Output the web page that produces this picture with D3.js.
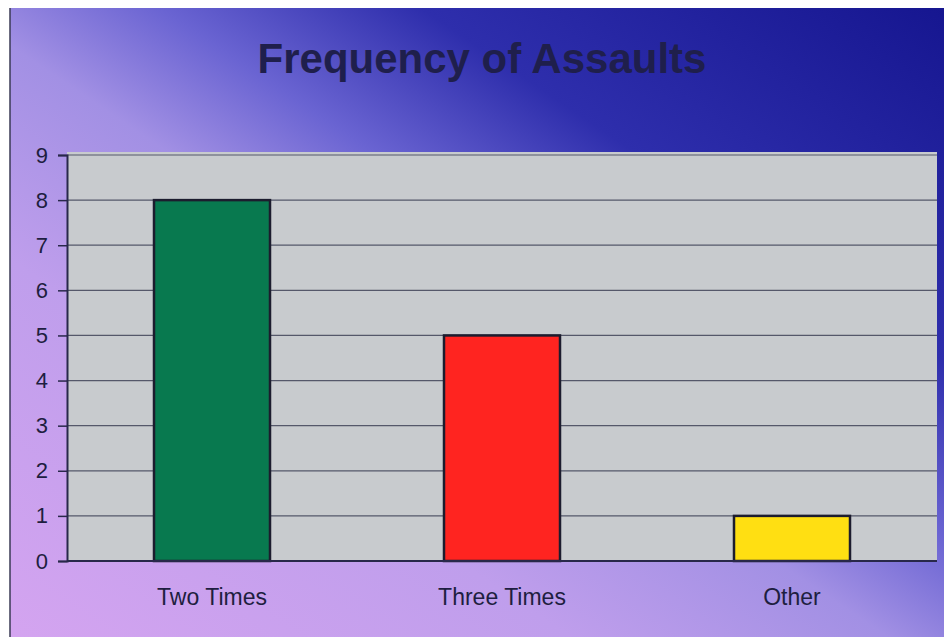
<!DOCTYPE html>
<html>
<head>
<meta charset="utf-8">
<script src="https://cdn.jsdelivr.net/npm/d3@7"></script>
<style>
  body { margin: 0; background: #fff; }
  svg { display: block; }
</style>
</head>
<body>
<div id="chart"></div>
<script>
// chart data
const categories = ["Two Times", "Three Times", "Other"];
const counts = [8, 5, 1];
const barColors = ["#08794f", "#ff2420", "#ffdf12"];
const yTicks = [0, 1, 2, 3, 4, 5, 6, 7, 8, 9];
const title = "Frequency of Assaults";

const width = 949, height = 641;
const margin = { top: 153, right: 12, bottom: 80, left: 67 };

const svg = d3.select("#chart").append("svg")
  .attr("width", width)
  .attr("height", height);

const defs = svg.append("defs");

// slide background, lavender bottom-left to dark blue top-right
const grad = defs.append("linearGradient")
  .attr("id", "bg")
  .attr("x1", 0).attr("y1", 1)
  .attr("x2", 1).attr("y2", 0);
[
  [0, "#d4a4f0"],
  [0.3, "#bf9eec"],
  [0.47, "#a290e4"],
  [0.58, "#6a64d2"],
  [0.72, "#2e2eac"],
  [1, "#161690"]
].forEach(s => grad.append("stop").attr("offset", s[0]).attr("stop-color", s[1]));

svg.append("rect")
  .attr("x", 10).attr("y", 8)
  .attr("width", 934).attr("height", 629)
  .attr("fill", "url(#bg)");

svg.append("line")
  .attr("x1", 10).attr("x2", 10)
  .attr("y1", 8).attr("y2", 637)
  .attr("stroke", "#3a3a55").attr("stroke-width", 1.5);

// title
svg.append("text")
  .attr("x", 482)
  .attr("y", 73)
  .attr("text-anchor", "middle")
  .attr("font-family", "Liberation Sans, Arial, sans-serif")
  .attr("font-weight", "bold")
  .attr("font-size", 42)
  .attr("fill", "#1f1f4c")
  .text(title);

// scales
const x = d3.scaleBand()
  .domain(categories)
  .range([margin.left, 937])
  .paddingInner(0.6)
  .paddingOuter(0.3);

const y = d3.scaleLinear()
  .domain([0, 9])
  .range([561, 155]);

// plot area
svg.append("rect")
  .attr("x", margin.left)
  .attr("y", y(9) - 3)
  .attr("width", 937 - margin.left)
  .attr("height", y(0) - y(9) + 3)
  .attr("fill", "#c8cbce");

// gridlines
svg.append("g")
  .selectAll("line")
  .data(yTicks.filter(d => d > 0))
  .join("line")
  .attr("x1", margin.left)
  .attr("x2", 937)
  .attr("y1", d => y(d))
  .attr("y2", d => y(d))
  .attr("stroke", "#55586a")
  .attr("stroke-width", 1.2);

// bars
svg.append("g")
  .selectAll("rect")
  .data(categories)
  .join("rect")
  .attr("x", d => x(d))
  .attr("y", (d, i) => y(counts[i]))
  .attr("width", x.bandwidth())
  .attr("height", (d, i) => y(0) - y(counts[i]))
  .attr("fill", (d, i) => barColors[i])
  .attr("stroke", "#1c1c2e")
  .attr("stroke-width", 2.5);

// y axis
const yAxis = svg.append("g")
  .attr("transform", `translate(${margin.left},0)`)
  .call(d3.axisLeft(y).tickValues(yTicks).tickSize(9).tickPadding(10).tickFormat(d3.format("d")));
yAxis.select(".domain").attr("stroke", "#28284a").attr("stroke-width", 2);
yAxis.selectAll(".tick line").attr("stroke", "#28284a").attr("stroke-width", 1.5);
yAxis.selectAll(".tick text")
  .attr("font-family", "Liberation Sans, Arial, sans-serif")
  .attr("font-size", 22)
  .attr("fill", "#1e1e40");

// x axis
const xAxis = svg.append("g")
  .attr("transform", `translate(0,${y(0)})`)
  .call(d3.axisBottom(x).tickSize(0).tickPadding(28));
xAxis.select(".domain").attr("stroke", "#28284a").attr("stroke-width", 2)
  .attr("d", `M${margin.left},0H937`);
xAxis.selectAll(".tick text")
  .attr("font-family", "Liberation Sans, Arial, sans-serif")
  .attr("font-size", 23)
  .attr("fill", "#1e1e40");
</script>
</body>
</html>
